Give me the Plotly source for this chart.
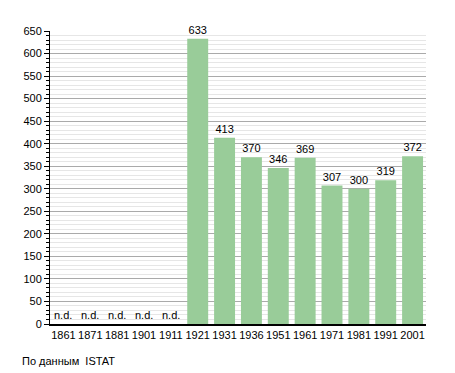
import plotly.graph_objects as go

years = ["1861", "1871", "1881", "1901", "1911", "1921", "1931", "1936",
         "1951", "1961", "1971", "1981", "1991", "2001"]
population = [None, None, None, None, None, 633, 413, 370, 346, 369, 307, 300, 319, 372]
y_ticks = list(range(0, 651, 50))
source_note = "По данным  ISTAT"
missing_label = "n.d."

# page body has an 8px margin, so the figure is offset by 8px
OFF = 8
W, H = 455 - OFF, 373 - OFF
L, R, T, B = 50 - OFF, 29, 31 - OFF, 49
pw, ph = W - L - R, H - T - B

fig = go.Figure()
fig.add_trace(go.Bar(
    x=years, y=population,
    marker=dict(color="#99cc99", line=dict(width=0)),
    text=[str(v) if v is not None else "" for v in population],
    textposition="outside",
    textfont=dict(size=11, color="#000"),
    cliponaxis=False,
))

for i, v in enumerate(population):
    if v is None:
        fig.add_annotation(x=i, y=0, xref="x", yref="y", text=missing_label,
                           showarrow=False, yanchor="bottom", yshift=1,
                           font=dict(size=11, color="#000"))

fig.add_annotation(x=(20 - OFF - L) / pw, y=-(361 - OFF - (H - B)) / ph,
                   xref="paper", yref="paper",
                   text=source_note, showarrow=False, xanchor="left", yanchor="middle",
                   font=dict(size=11, color="#000"))

fig.update_layout(
    width=W, height=H,
    margin=dict(l=L, r=R, t=T, b=B),
    paper_bgcolor="white", plot_bgcolor="white",
    font=dict(family="Liberation Sans, Arial, sans-serif", size=11, color="#000"),
    showlegend=False,
    bargap=0.22,
    xaxis=dict(type="category", range=[-0.5, len(years) - 0.5], showline=True,
               linecolor="#000", linewidth=1.5, ticks="", showgrid=False,
               tickfont=dict(size=11)),
    yaxis=dict(range=[0, 650], tickvals=y_ticks, showline=True, linecolor="#000",
               linewidth=1, ticks="outside", ticklen=5, tickcolor="#000",
               showgrid=True, gridcolor="#aaaaaa", gridwidth=1, zeroline=False,
               minor=dict(dtick=10, ticks="outside", ticklen=3, tickcolor="#000",
                          showgrid=True, gridcolor="#e6e6e6", gridwidth=1),
               tickfont=dict(size=11)),
)

fig.write_html("out.html")
